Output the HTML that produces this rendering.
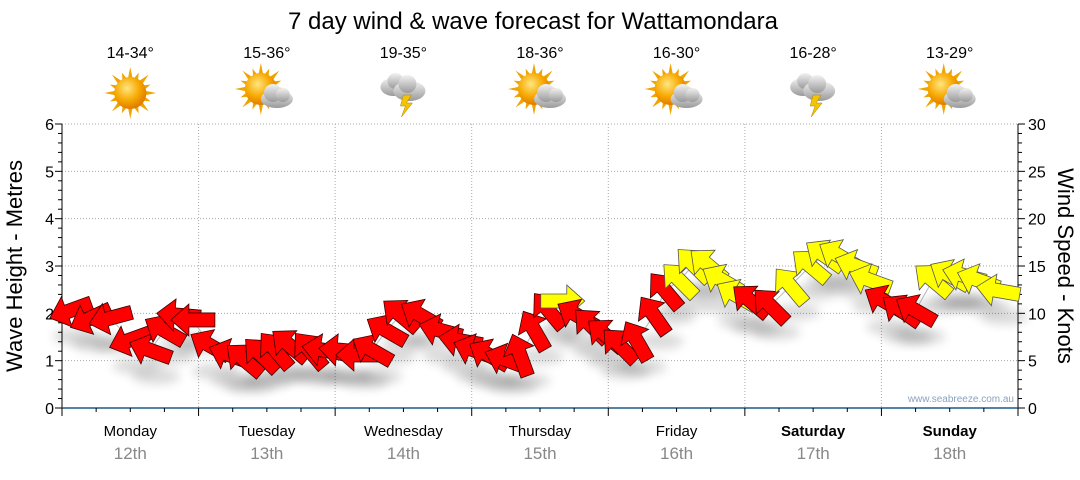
<!DOCTYPE html>
<html><head><meta charset="utf-8">
<style>
body{margin:0;background:#fff;font-family:"Liberation Sans",sans-serif;}
svg text{font-family:"Liberation Sans",sans-serif;}
</style></head>
<body>
<svg id="c" width="1080" height="475" xmlns="http://www.w3.org/2000/svg">
<defs>
<filter id="sh" x="-50%" y="-50%" width="200%" height="200%"><feGaussianBlur stdDeviation="5"/></filter>
<radialGradient id="sun" cx="40%" cy="35%" r="65%"><stop offset="0" stop-color="#ffe680"/><stop offset="0.6" stop-color="#f7a800"/><stop offset="1" stop-color="#e07b00"/></radialGradient>
<linearGradient id="cl" x1="0" y1="0" x2="0" y2="1"><stop offset="0" stop-color="#f2f2f2"/><stop offset="1" stop-color="#9a9a9a"/></linearGradient>
</defs>
<text x="533" y="29" font-size="24" text-anchor="middle" fill="#000">7 day wind &amp; wave forecast for Wattamondara</text>
<g id="grid"></g>
<g id="axes"></g>
<g id="icons"></g>
<g id="marks"></g>
<text x="1014" y="402" font-size="10" text-anchor="end" fill="#8aa3c0">www.seabreeze.com.au</text>
<text transform="translate(22,266) rotate(-90)" font-size="22" text-anchor="middle">Wave Height - Metres</text>
<text transform="translate(1058,266) rotate(90)" font-size="22" text-anchor="middle">Wind Speed - Knots</text>
</svg>
<script>
const days=["Monday","Tuesday","Wednesday","Thursday","Friday","Saturday","Sunday"];
const dates=["12th","13th","14th","15th","16th","17th","18th"];
const temps=["14-34°","15-36°","19-35°","18-36°","16-30°","16-28°","13-29°"];
const weather=["sun","partly","storm","partly","partly","storm","partly"];
const waveTicks=[0,1,2,3,4,5,6];
const windTicks=[0,5,10,15,20,25,30];
// wind forecast: hour from start, speed (knots), pointing angle (deg, 0=right, 90=up), colour
const hours=[1.5,5,8.5,12,15.5,18,20.5,23,26,29.5,32,35,37.5,40,43.5,46,49,52,54.5,57,59.5,63,66.5,70,72.5,75,78,80.5,83,85.5,88,90.5,93,95.5,98,101,104,106,108.5,111,113.5,116,118.5,121,124.5,128,131.5,134,136.5,139.5,142,144.5,147.5,150,153,156,158.5,161,164.5];
const speeds=[10.3,9.5,9.5,7.2,6.1,8.2,9.8,9.3,6.6,5.6,5.1,5.6,6.1,6.6,6.1,6.1,6.1,5.6,6.1,8.2,9.8,9.8,8.2,7.1,6.1,5.6,5.1,5.6,8.2,10.3,11.3,9.8,8.7,7.7,6.6,7.1,9.8,12.4,13.5,15.1,15.1,13.5,11.9,11.3,10.8,12.9,15.0,16.1,16.1,15.0,13.5,11.3,10.3,10.3,13.5,14.0,14.0,13.5,12.4,10.3];
const angles=[200,205,195,200,160,150,175,180,150,160,140,135,130,140,130,170,175,180,150,150,140,150,165,170,160,150,160,110,120,130,0,150,135,140,135,120,125,130,135,135,140,150,150,140,135,130,140,145,150,160,160,150,145,150,140,150,165,160,170,200];
const colours=["r","r","r","r","r","r","r","r","r","r","r","r","r","r","r","r","r","r","r","r","r","r","r","r","r","r","r","r","r","r","y","r","r","r","r","r","r","r","y","y","y","y","y","r","r","y","y","y","y","y","y","r","r","r","y","y","y","y","y","r"];

const NS="http://www.w3.org/2000/svg";
const X0=62,X1=1018,Y0=408,Y1=124;
const xh=h=>X0+h*(X1-X0)/168;
const yw=m=>Y0-m*(Y0-Y1)/6;
const yk=k=>Y0-k*(Y0-Y1)/30;
function mk(tag,attrs,parent){const e=document.createElementNS(NS,tag);for(const k in attrs)e.setAttribute(k,attrs[k]);parent.appendChild(e);return e;}
const grid=document.getElementById('grid'),axes=document.getElementById('axes'),icons=document.getElementById('icons'),marks=document.getElementById('marks');
waveTicks.forEach(v=>{if(v>0){const l=mk('line',{x1:X0,x2:X1,y1:yw(v),y2:yw(v),stroke:'#aaa','stroke-dasharray':'1,2'},grid);

}
const t=mk('text',{x:X0-8,y:yw(v)+6,'font-size':16,'text-anchor':'end'},axes);t.textContent=v;

});
for(let i=0;i<=30;i++){const y=yw(i/5);mk('line',{x1:X0,x2:X0-(i%5?4:7),y1:y,y2:y,stroke:'#000'},axes);mk('line',{x1:X1,x2:X1+(i%5?4:7),y1:y,y2:y,stroke:'#000'},axes);}
windTicks.forEach(v=>{const t=mk('text',{x:X1+10,y:yk(v)+6,'font-size':16},axes);t.textContent=v;

});
mk('line',{x1:X0,x2:X0,y1:Y1,y2:Y0,stroke:'#000'},axes);
mk('line',{x1:X1,x2:X1,y1:Y1,y2:Y0,stroke:'#000'},axes);
mk('line',{x1:X0,x2:X1,y1:Y0,y2:Y0,stroke:'#1a5a8a','stroke-width':1.5},axes);
for(let q=0;q<=28;q++){const x=xh(q*6);mk('line',{x1:x,x2:x,y1:Y0,y2:Y0+(q%4?4:8),stroke:'#000'},axes);}
days.forEach((d,i)=>{
 if(i>0){const l=mk('line',{x1:xh(i*24),x2:xh(i*24),y1:Y1,y2:Y0,stroke:'#aaa','stroke-dasharray':'1,2'},grid);
 
 }
 const cx=xh(i*24+12);
 const t=mk('text',{x:cx,y:436,'font-size':15,'text-anchor':'middle','font-weight':i>=5?'bold':'normal'},axes);t.textContent=d;
 
 
 const t2=mk('text',{x:cx,y:459,'font-size':17,'text-anchor':'middle',fill:'#888'},axes);t2.textContent=dates[i];
 
 
 const t3=mk('text',{x:cx,y:58,'font-size':16,'text-anchor':'middle'},icons);t3.textContent=temps[i];
 
 
 const g=mk('g',{transform:`translate(${cx},93)`},icons);
 
 
 const w=weather[i];
 if(w!=='storm'){const sx=w==='sun'?0:-6,sy=w==='sun'?0:-4;
  for(let a=0;a<16;a++){const an=a*Math.PI/8,r1=15,r2=a%2?22:26;mk('polygon',{points:`${sx+Math.cos(an-0.15)*r1},${sy+Math.sin(an-0.15)*r1} ${sx+Math.cos(an)*r2},${sy+Math.sin(an)*r2} ${sx+Math.cos(an+0.15)*r1},${sy+Math.sin(an+0.15)*r1}`,fill:'#f0a400'},g);}
  mk('circle',{cx:sx,cy:sy,r:16,fill:'url(#sun)'},g);}
 if(w==='partly'){mk('ellipse',{cx:10,cy:6,rx:16,ry:9,fill:'url(#cl)'},g);mk('circle',{cx:6,cy:0,r:9,fill:'url(#cl)'},g);mk('circle',{cx:16,cy:2,r:7,fill:'url(#cl)'},g);}
 if(w==='storm'){mk('ellipse',{cx:-10,cy:-6,rx:13,ry:9,fill:'url(#cl)'},g);mk('circle',{cx:-8,cy:-12,r:8,fill:'url(#cl)'},g);mk('ellipse',{cx:6,cy:-2,rx:16,ry:10,fill:'url(#cl)'},g);mk('circle',{cx:4,cy:-9,r:9,fill:'url(#cl)'},g);
  mk('polygon',{points:'0,2 8,2 3,10 9,10 -2,24 2,13 -3,13',fill:'#f5c400',stroke:'#b08000','stroke-width':0.5},g);}
});
let pts=hours.map((h,i)=>`${xh(h)},${yk(speeds[i])}`).join(' ');
mk('polyline',{points:pts,fill:'none',stroke:'#bbb','stroke-width':1},marks);
hours.forEach((h,i)=>{
 const x=xh(h),y=yk(speeds[i]);
 const s=mk('ellipse',{cx:x+6,cy:y+26,rx:24,ry:8,fill:'#000',opacity:0.14,filter:'url(#sh)'},marks);
 
 
});
hours.forEach((h,i)=>{
 const x=xh(h),y=yk(speeds[i]);
 const p=mk('polygon',{points:'-22,-7 4,-7 4,-16 22,0 4,16 4,7 -22,7',transform:`translate(${x},${y}) rotate(${-angles[i]})`,fill:colours[i]==='y'?'#ffff00':'#ff0000',stroke:colours[i]==='y'?'#555':'#3a0000','stroke-width':0.8},marks);
 
 
});
</script>
</body></html>
